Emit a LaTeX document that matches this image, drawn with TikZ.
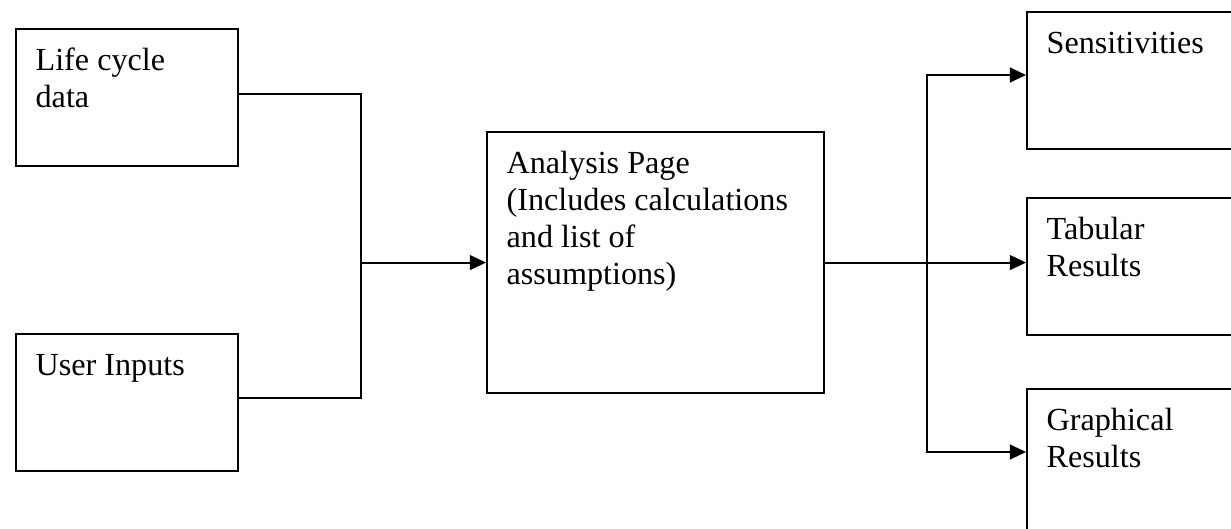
\documentclass[tikz,border=0pt]{standalone}
\usepackage{fontspec}
\setmainfont{Liberation Serif}
\usetikzlibrary{arrows.meta,calc}

% text stacked from its first baseline
\newcommand{\boxlines}[1]{\begin{tabular}[t]{@{}l@{}}#1\end{tabular}}

\begin{document}
\begin{tikzpicture}[
  x=0.373pt,y=-0.373pt,
  >={Triangle[length=6pt,width=5.5pt]},
  font=\fontsize{12}{13.8}\selectfont,
  b/.style={rectangle,draw=black,line width=0.75pt,anchor=north west,inner sep=0pt,
            minimum width=82.8pt,minimum height=51.1pt,label={[t]north west:\boxlines{#1}}},
  t/.style={anchor=base west,inner sep=0pt,xshift=7.5pt,yshift=-16pt},
  wire/.style={line width=0.75pt},
  flow/.style={->,line width=0.75pt},
]
  \useasboundingbox (0,0) rectangle (1231,528);
  \clip (0,0) rectangle (1231,528);

  % inputs (left)
  \node[b={Life cycle\\data}] (life) at (15,28) {};
  \node[b={User Inputs}] (user) at (15,333) {};
  % analysis (center)
  \node[b={Analysis Page\\(Includes calculations\\and list of\\assumptions)},
        minimum width=125.7pt,minimum height=97.4pt] (ana) at (486,131) {};
  % outputs (right, running off the page)
  \node[b=Sensitivities,minimum width=86pt] (sens) at (1026,11) {};
  \node[b={Tabular\\Results},minimum width=86pt] (tab) at (1026,197) {};
  \node[b={Graphical\\Results},minimum width=86pt,minimum height=60pt] (graph) at (1026,388) {};

  % junctions
  \coordinate (jin) at ($(ana.west)+(-125,0)$);
  \coordinate (jout) at ($(ana.east)+(102,0)$);

  % flows in
  \draw[wire] ($(life.north east)+(0,66)$) -| (jin) |- ($(user.north east)+(0,65)$);
  \draw[flow] (jin) -- (ana.west);
  % flows out
  \draw[wire] (ana.east) -- (jout);
  \draw[flow] (jout) -- (jout -| tab.west);
  \draw[flow] (jout) |- ($(sens.north west)+(0,64)$);
  \draw[flow] (jout) |- ($(graph.north west)+(0,64)$);
\end{tikzpicture}
\end{document}
